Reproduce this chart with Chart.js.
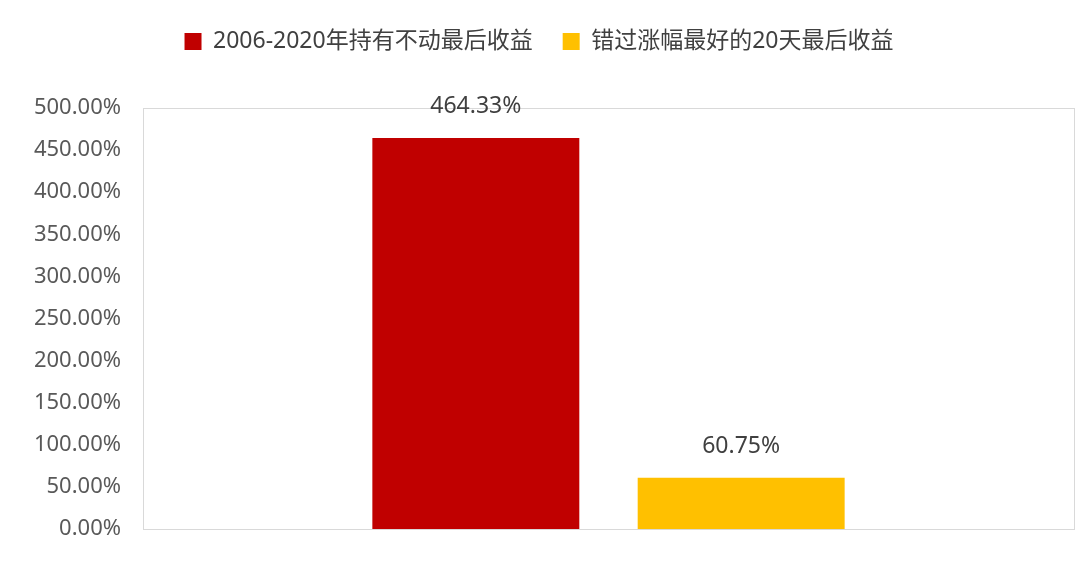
<!DOCTYPE html>
<html><head><meta charset="utf-8">
<script src="https://cdn.jsdelivr.net/npm/chart.js@4"></script>
<style>html,body{margin:0;background:#fff}#w{width:1080px;height:577px}</style>
</head><body><div id="w"><canvas id="c"></canvas></div>
<script>
const categories = [""];
const seriesNames = ["2006-2020年持有不动最后收益", "错过涨幅最好的20天最后收益"];
const holdValues = [464.33];
const missValues = [60.75];
const seriesColors = ["#C00000", "#FFC000"];
const FONT = "'Noto Sans','Noto Sans CJK SC',sans-serif";
const labelPlugin = {
  id: 'lbl',
  afterDatasetsDraw(chart) {
    const ctx = chart.ctx;
    ctx.save();
    ctx.font = "23px " + FONT; ctx.fillStyle = "#404040"; ctx.textAlign = "center"; ctx.textBaseline = "bottom";
    chart.data.datasets.forEach((ds, i) => {
      chart.getDatasetMeta(i).data.forEach((b, j) => {
        ctx.fillText(ds.data[j].toFixed(2) + "%", b.x, b.y - 20);
      });
    });
    ctx.restore();
  }
};
const borderPlugin = {
  id: 'brd',
  beforeDatasetsDraw(chart) {
    const a = chart.chartArea, ctx = chart.ctx;
    ctx.save(); ctx.strokeStyle = "#D9D9D9"; ctx.lineWidth = 1;
    ctx.strokeRect(a.left + 0.5, a.top + 0.5, a.right - a.left, a.bottom - a.top);
    ctx.restore();
  }
};
const legendSpace = {
  id: 'lsp',
  beforeInit(chart) {
    const f = chart.legend.fit;
    chart.legend.fit = function () { f.bind(this)(); this.height += 45; };
  }
};
new Chart(document.getElementById('c'), {
  type: 'bar',
  data: {
    labels: categories,
    datasets: [
      { label: seriesNames[0], data: holdValues, backgroundColor: seriesColors[0] },
      { label: seriesNames[1], data: missValues, backgroundColor: seriesColors[1] }
    ]
  },
  options: {
    responsive: true, maintainAspectRatio: false, animation: false,
    devicePixelRatio: 1,
    categoryPercentage: 0.57, barPercentage: 0.78,
    layout: { padding: { left: 4, right: 6, top: 0, bottom: 40 } },
    plugins: {
      tooltip: { enabled: false },
      legend: {
        position: 'top',
        labels: { font: { family: FONT, size: 23 }, color: '#404040', boxWidth: 17, boxHeight: 17, padding: 30 }
      }
    },
    scales: {
      x: { grid: { display: false }, border: { display: false }, ticks: { display: false } },
      y: {
        min: 0, max: 500,
        afterFit(s) { s.width = 139; },
        ticks: { stepSize: 50, color: '#595959', font: { family: FONT, size: 22 }, padding: 14,
          callback: v => v.toFixed(2) + "%" },
        grid: { display: false }, border: { display: false }
      }
    }
  },
  plugins: [labelPlugin, borderPlugin, legendSpace]
});
</script></body></html>
